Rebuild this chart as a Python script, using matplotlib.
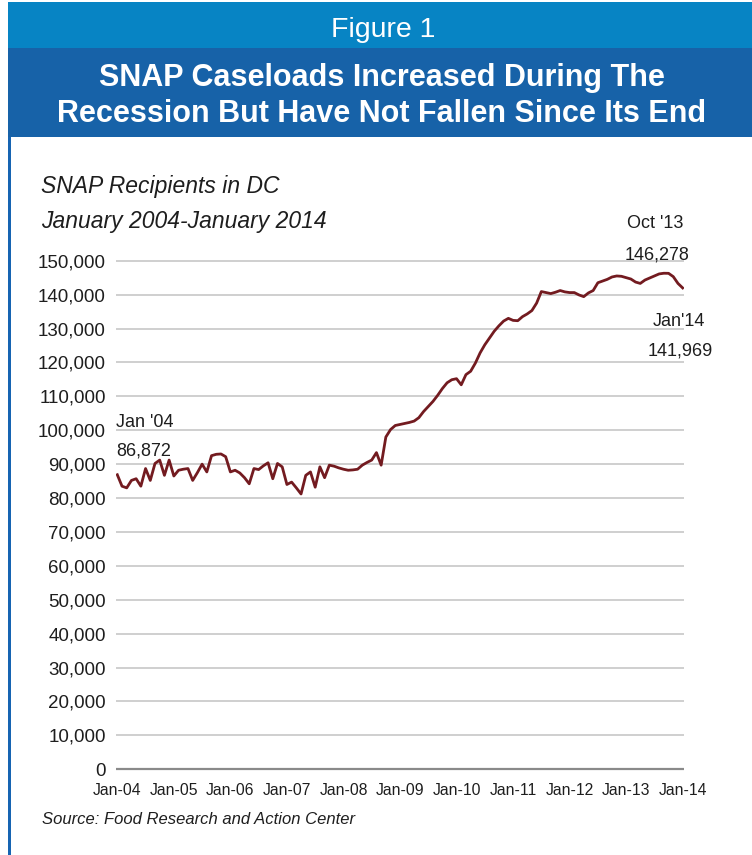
import matplotlib
matplotlib.use('Agg')
import matplotlib.pyplot as plt
from matplotlib.patches import Rectangle
from matplotlib import font_manager as fm

# ---------------- data ----------------
tick_labels = ['Jan-04', 'Jan-05', 'Jan-06', 'Jan-07', 'Jan-08', 'Jan-09',
               'Jan-10', 'Jan-11', 'Jan-12', 'Jan-13', 'Jan-14']
y_ticks = [0, 10000, 20000, 30000, 40000, 50000, 60000, 70000,
           80000, 90000, 100000, 110000, 120000, 130000, 140000, 150000]

# Monthly SNAP recipients in DC, Jan 2004 .. Jan 2014
recipients_2004 = [86872, 83500, 83000, 85200, 85700, 83500, 88700, 85200, 90200, 91200, 86700, 91200]
recipients_2005 = [86500, 88200, 88500, 88700, 85200, 87500, 90000, 87700, 92500, 92900, 93000, 92200]
recipients_2006 = [87700, 88200, 87400, 86000, 84200, 88700, 88400, 89500, 90400, 85700, 90200, 89200]
recipients_2007 = [84000, 84700, 83000, 81200, 86700, 87700, 83200, 89200, 86000, 89700, 89400, 88900]
recipients_2008 = [88500, 88200, 88300, 88500, 89700, 90500, 91200, 93400, 89700, 98000, 100200, 101400]
recipients_2009 = [101700, 102000, 102300, 102700, 103700, 105500, 107000, 108500, 110300, 112300, 114000, 114900]
recipients_2010 = [115200, 113400, 116400, 117400, 119800, 122800, 125200, 127200, 129200, 130800, 132200, 133000]
recipients_2011 = [132400, 132300, 133500, 134300, 135300, 137500, 140900, 140600, 140300, 140700, 141200, 140800]
recipients_2012 = [140600, 140600, 139900, 139400, 140500, 141200, 143500, 144000, 144500, 145200, 145500, 145400]
recipients_2013 = [145000, 144600, 143700, 143300, 144300, 144900, 145500, 146100, 146300, 146278, 145300, 143300]
recipients_2014 = [141969]

recipients = (recipients_2004 + recipients_2005 + recipients_2006 + recipients_2007 +
              recipients_2008 + recipients_2009 + recipients_2010 + recipients_2011 +
              recipients_2012 + recipients_2013 + recipients_2014)
month_index = list(range(len(recipients)))
peak_idx = 117  # Oct '13

# ---------------- fonts ----------------
names = {f.name for f in fm.fontManager.ttflist}
NARROW_OK = 'Liberation Sans Narrow' in names
NARROW = 'Liberation Sans Narrow' if NARROW_OK else 'Liberation Sans'
k = 1.15 if NARROW_OK else 1.0   # size factor if a narrow face exists
FN = [NARROW, 'DejaVu Sans']
FW = ['Liberation Sans', 'DejaVu Sans']
TXT = '#1e1e1e'

W, H = 752, 855
fig = plt.figure(figsize=(W / 100, H / 100), dpi=100)
fig.patch.set_facecolor('white')

# overlay in pixel coords for decorations
bg = fig.add_axes([0, 0, 1, 1], zorder=0)
bg.set_xlim(0, W)
bg.set_ylim(H, 0)
bg.axis('off')

light_blue = '#0784c4'
dark_blue = '#1762a8'
bg.add_patch(Rectangle((8, 2), W - 8, 46, facecolor=light_blue, edgecolor='none'))
bg.add_patch(Rectangle((8, 48), W - 8, 89, facecolor=dark_blue, edgecolor='none'))
bg.add_patch(Rectangle((8, 137), 3, H - 137, facecolor='#1664b2', edgecolor='none'))

bg.text(383, 37, 'Figure 1', color='white', fontsize=20.5, family=FW,
        ha='center', va='baseline')
bg.text(382, 86, 'SNAP Caseloads Increased During The', color='white',
        fontsize=22, fontweight='bold', family=FW, ha='center', va='baseline')
bg.text(382, 122, 'Recession But Have Not Fallen Since Its End', color='white',
        fontsize=22, fontweight='bold', family=FW, ha='center', va='baseline')

bg.text(41, 193, 'SNAP Recipients in DC', fontsize=16.5 * k, style='italic',
        family=FN, color=TXT, ha='left', va='baseline')
bg.text(41, 228, 'January 2004-January 2014', fontsize=16.5 * k, style='italic',
        family=FN, color=TXT, ha='left', va='baseline')
bg.text(42, 824, 'Source: Food Research and Action Center', fontsize=12 * k,
        style='italic', family=FN, color=TXT, ha='left', va='baseline')

# ---------------- main chart ----------------
px_left, px_right = 115.7, 684.0
y_lo, y_hi = -2500, 152500
px_per_unit = (769.3 - 260.7) / 150000
px_bottom = 769.3 + (0 - y_lo) * px_per_unit
px_top = 260.7 - (y_hi - 150000) * px_per_unit
ax = fig.add_axes([px_left / W, (H - px_bottom) / H,
                   (px_right - px_left) / W, (px_bottom - px_top) / H], zorder=1)
ax.patch.set_visible(False)
ax.set_xlim(-0.34, 120.28)
ax.set_ylim(y_lo, y_hi)
for s in ax.spines.values():
    s.set_visible(False)

ax.set_yticks(y_ticks)
ax.set_yticklabels([f"{v:,}" for v in y_ticks])
ax.yaxis.grid(True, color='#cbcbcb', linewidth=1.3)
ax.xaxis.grid(False)
ax.set_axisbelow(True)
ax.axhline(0, color='#8a8a8a', linewidth=1.6, zorder=1)

ax.set_xticks([12 * i for i in range(len(tick_labels))])
ax.set_xticklabels(tick_labels)
ax.tick_params(axis='y', length=0, pad=7, labelsize=13.5 * k, labelcolor=TXT)
ax.tick_params(axis='x', length=0, pad=4, labelsize=11.3 * k, labelcolor=TXT)
for lab in ax.get_xticklabels() + ax.get_yticklabels():
    lab.set_family(FN)

ax.plot(month_index, recipients, color='#731b20', linewidth=2.0,
        solid_joinstyle='round', zorder=3)

# annotations (on top)
fg = fig.add_axes([0, 0, 1, 1], zorder=2)
fg.set_xlim(0, W)
fg.set_ylim(H, 0)
fg.axis('off')
ann_kw = dict(fontsize=13 * k, family=FN, color=TXT, va='baseline')
fg.text(116, 427, "Jan '04", ha='left', **ann_kw)
fg.text(116, 455, f"{recipients[0]:,}", ha='left', **ann_kw)
fg.text(655, 228, "Oct '13", ha='center', **ann_kw)
fg.text(657, 259, f"{recipients[peak_idx]:,}", ha='center', **ann_kw)
fg.text(679, 326, "Jan'14", ha='center', **ann_kw)
fg.text(680, 355, f"{recipients[-1]:,}", ha='center', **ann_kw)

fig.savefig('out.png', dpi=100, facecolor='white')
